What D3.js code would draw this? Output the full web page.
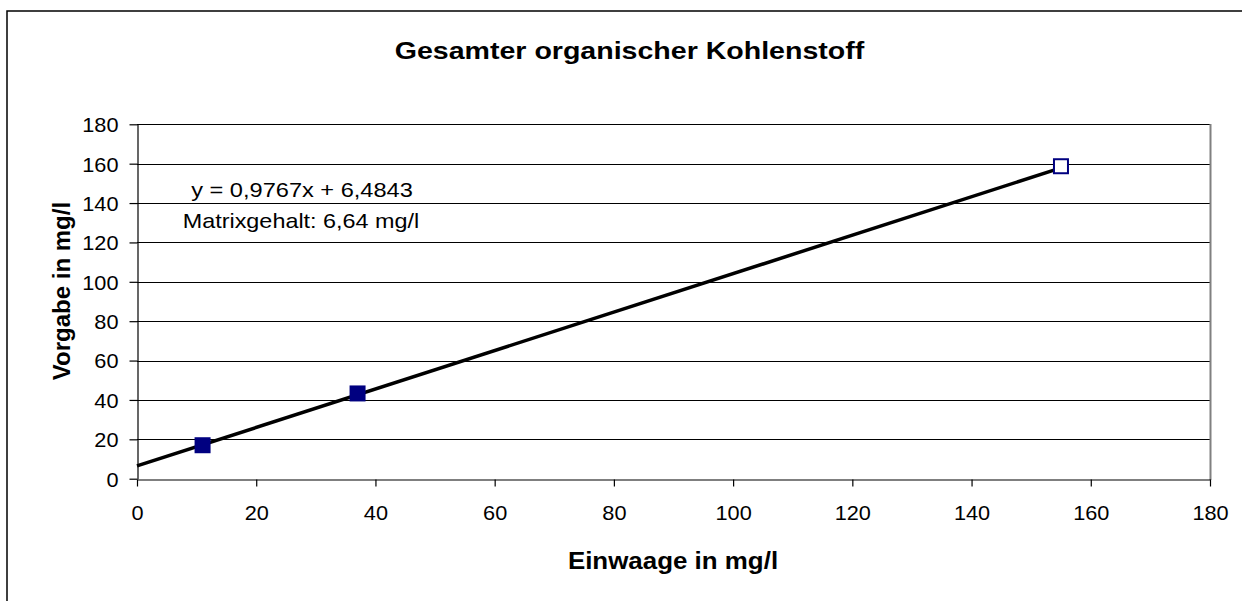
<!DOCTYPE html>
<html><head><meta charset="utf-8">
<script src="https://cdn.jsdelivr.net/npm/d3@7"></script>
<style>html,body{margin:0;padding:0;background:#fff;overflow:hidden}</style>
</head><body>
<script>
const title = "Gesamter organischer Kohlenstoff";
const xTitle = "Einwaage in mg/l";
const yTitle = "Vorgabe in mg/l";
const xTicks = [0,20,40,60,80,100,120,140,160,180];
const yTicks = [0,20,40,60,80,100,120,140,160,180];
const filledX = [11, 37];
const filledY = [17, 43.3];
const openX = [155];
const openY = [158.7];
const slope = 0.9767, intercept = 6.4843;
const trendRange = [0, 155];
const eqLabel = "y = 0,9767x + 6,4843";
const matrixLabel = "Matrixgehalt: 6,64 mg/l";

const W = 1242, H = 601;
const svg = d3.select("body").append("svg").attr("width", W).attr("height", H);
const font = "'Liberation Sans', Arial, sans-serif";
const L = 137, R = 1210, T = 124.3, B = 478.7;
const x = d3.scaleLinear().domain([0,180]).range([L,R]);
const y = d3.scaleLinear().domain([0,180]).range([B,T]);

function stretch(sel, k){
  sel.each(function(){
    const t = d3.select(this);
    const ax = +(t.attr("x")||0);
    const prev = t.attr("transform") || "";
    t.attr("transform", `${prev} translate(${ax},0) scale(${k},1) translate(${-ax},0)`);
  });
}

// outer frame
svg.append("rect").attr("x",7).attr("y",11).attr("width",W).attr("height",H)
  .attr("fill","none").attr("stroke","#000").attr("stroke-width",1.5);

// gridlines
svg.append("g").selectAll("line").data(yTicks.filter(d=>d>0)).join("line")
  .attr("x1",L).attr("x2",R).attr("y1",d=>Math.round(y(d))+0.5).attr("y2",d=>Math.round(y(d))+0.5)
  .attr("stroke","#000").attr("stroke-width",1);
// right border gray
svg.append("line").attr("x1",R+0.5).attr("x2",R+0.5).attr("y1",Math.round(T)).attr("y2",Math.round(B)+1)
  .attr("stroke","#808080").attr("stroke-width",2);

// axes
const xa = svg.append("g").attr("transform",`translate(0,${Math.round(B)+0.5})`)
  .call(d3.axisBottom(x).tickValues(xTicks).tickSize(7).tickPadding(19).tickSizeOuter(0));
const ya = svg.append("g").attr("transform",`translate(${Math.round(L)+0.5},0)`)
  .call(d3.axisLeft(y).tickValues(yTicks).tickSize(8).tickPadding(11).tickSizeOuter(0));
[xa,ya].forEach(a=>{
  a.selectAll("path,line").attr("stroke","#000").attr("stroke-width",1.2);
  a.selectAll("text").attr("font-family",font).attr("font-size",20.5).attr("fill","#000");
});
ya.selectAll("text").attr("dy","0.36em");
xa.selectAll("text").attr("dy","0.71em");
stretch(xa.selectAll("text"), 1.06);
stretch(ya.selectAll("text"), 1.06);

// trend line
svg.append("line")
  .attr("x1",x(trendRange[0])).attr("y1",y(slope*trendRange[0]+intercept))
  .attr("x2",x(trendRange[1])).attr("y2",y(slope*trendRange[1]+intercept))
  .attr("stroke","#000").attr("stroke-width",3.5);

// markers
const ms = 16;
svg.append("g").selectAll("rect").data(filledX.map((d,i)=>[d,filledY[i]])).join("rect")
  .attr("x",d=>x(d[0])-ms/2).attr("y",d=>y(d[1])-ms/2).attr("width",ms).attr("height",ms)
  .attr("fill","#000080");
svg.append("g").selectAll("rect").data(openX.map((d,i)=>[d,openY[i]])).join("rect")
  .attr("x",d=>x(d[0])-ms/2+1).attr("y",d=>y(d[1])-ms/2+1).attr("width",ms-2).attr("height",ms-2)
  .attr("fill","#fff").attr("stroke","#000080").attr("stroke-width",2);

// labels
stretch(svg.append("text").attr("x",302).attr("y",197).attr("text-anchor","middle")
  .attr("font-family",font).attr("font-size",20).text(eqLabel), 1.18);
stretch(svg.append("text").attr("x",301).attr("y",228).attr("text-anchor","middle")
  .attr("font-family",font).attr("font-size",20).text(matrixLabel), 1.17);

// titles
stretch(svg.append("text").attr("x",629.5).attr("y",59).attr("text-anchor","middle")
  .attr("font-family",font).attr("font-weight","bold").attr("font-size",24).text(title), 1.19);
stretch(svg.append("text").attr("x",673).attr("y",569).attr("text-anchor","middle")
  .attr("font-family",font).attr("font-weight","bold").attr("font-size",24).text(xTitle), 1.08);
svg.append("text").attr("transform","translate(70,291) rotate(-90)").attr("text-anchor","middle")
  .attr("font-family",font).attr("font-weight","bold").attr("font-size",24).text(yTitle);
</script>
</body></html>
